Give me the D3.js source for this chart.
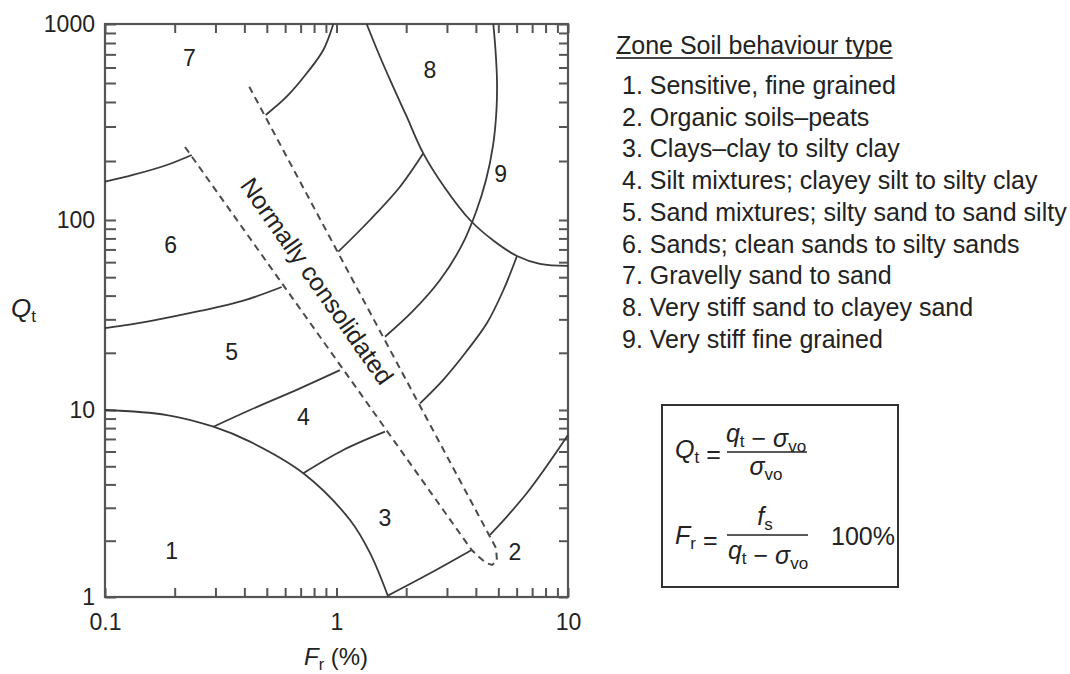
<!DOCTYPE html>
<html>
<head>
<meta charset="utf-8">
<script src="https://cdn.jsdelivr.net/npm/d3@7"></script>
<style>
  body { margin: 0; background: #fff; }
  svg { display: block; font-family: "Liberation Sans", Arial, Helvetica, sans-serif; }
</style>
</head>
<body>
<svg id="chart" width="1070" height="674"></svg>
<script>
// Normalized CPT soil behaviour type chart: Qt against Fr (%), log-log.

// Axis tick labels
const xTickValues = [0.1, 1, 10];
const yTickValues = [1, 10, 100, 1000];

// Zone boundaries, each point is [Fr (%), Qt]
const zone1Boundary   = [[0.1, 10], [0.185, 9.4], [0.294, 8.14], [0.423, 6.77], [0.719, 4.59], [1.144, 2.58], [1.395, 1.72], [1.674, 1]];
const zone23Left      = [[1.674, 1.02], [2.535, 1.339], [3.837, 1.784]];
const zone23Right     = [[4.604, 2.146], [6.63, 3.585], [10, 7.35]];
const zone34Left      = [[0.719, 4.59], [1.07, 6.11], [1.62, 7.66]];
const zone34Right     = [[2.295, 10.84], [2.884, 14.38], [3.626, 20.2], [4.468, 28.7], [5.239, 42.3], [6.022, 64.6]];
const zone45Left      = [[0.294, 8.14], [0.423, 10], [0.696, 13.0], [1.035, 16.2]];
const zone45Right     = [[1.62, 24.3], [2.119, 32.8], [2.80, 48.3], [3.485, 73.9], [4.005, 109.9], [4.424, 160.0],
                         [4.742, 238.6], [4.91, 364.0], [4.935, 518.0], [4.862, 736.9], [4.757, 1000]];
const zone56Left      = [[0.1, 27.0], [0.1564, 29.4], [0.2573, 33.2], [0.4025, 37.9], [0.58, 44.4]];
const zone56Right     = [[1.018, 68.1], [1.395, 100], [1.881, 147.9], [2.371, 218.9]];
const zone67Left      = [[0.1, 156.8], [0.132, 169.7], [0.185, 190.8], [0.237, 214.6]];
const zone67Right     = [[0.4945, 343.4], [0.609, 425.6], [0.7435, 560.3], [0.877, 736.9], [0.969, 1000]];
const zone89Boundary  = [[1.35, 1000], [1.511, 719.7], [1.719, 506.0], [1.996, 343.4], [2.371, 218.9], [2.942, 145.7],
                         [3.773, 100], [4.789, 77.5], [6.022, 64.6], [7.568, 58.7], [10, 57.3]];

// Normally consolidated band outline
const ncBand = [[0.2216, 235.8], [3.837, 1.784], [4.127, 1.636], [4.424, 1.52], [4.697, 1.483], [4.935, 1.557], [4.887, 1.828], [0.42, 478.6]];
const ncLabel = "Normally consolidated";
const ncLabelAt = [0.824, 47.7];

// Zone numbers and where they sit
const zoneIds     = ["1", "2", "3", "4", "5", "6", "7", "8", "9"];
const zoneLabelFr = [0.194, 5.904, 1.62, 0.719, 0.3526, 0.1922, 0.2313, 2.535, 5.12];
const zoneLabelQt = [1.769, 1.747, 2.636, 9.14, 20.3, 73.9, 668, 582.6, 171.7];

// Legend
const legendTitle = "Zone Soil behaviour type";
const legendItems = [
  "1. Sensitive, fine grained",
  "2. Organic soils\u2013peats",
  "3. Clays\u2013clay to silty clay",
  "4. Silt mixtures; clayey silt to silty clay",
  "5. Sand mixtures; silty sand to sand silty",
  "6. Sands; clean sands to silty sands",
  "7. Gravelly sand to sand",
  "8. Very stiff sand to clayey sand",
  "9. Very stiff fine grained"
];

const svg = d3.select("#chart");
const ink = "#222";
const lineInk = "#3a3a3a";
const frameInk = "#555";

const plot = { left: 105, right: 568, top: 24, bottom: 597 };

const x = d3.scaleLog().domain([0.1, 10]).range([plot.left, plot.right]);
const y = d3.scaleLog().domain(yTickValues).range([597, 410, 220, 24]);

const fmt = d3.format("~g");
const labelled = list => v => list.some(t => Math.abs(t - v) < 1e-9) ? fmt(v) : "";

// ---- axes with inward ticks on all four sides
function styleAxis(g) {
  g.select(".domain").remove();
  g.selectAll(".tick line").attr("stroke", frameInk).attr("stroke-width", 2);
  g.selectAll(".tick text").attr("fill", ink).attr("font-size", 23)
    .attr("font-family", "'Liberation Sans', Arial, sans-serif");
}

svg.append("g").attr("transform", `translate(${plot.left},0)`)
  .call(d3.axisLeft(y).tickSize(-11).tickSizeOuter(0).tickPadding(10).tickFormat(labelled(yTickValues)))
  .call(styleAxis);

svg.append("g").attr("transform", `translate(0,${plot.bottom})`)
  .call(d3.axisBottom(x).tickSize(-9).tickSizeOuter(0).tickPadding(17).tickFormat(labelled(xTickValues)))
  .call(styleAxis);

svg.append("g").attr("transform", `translate(0,${plot.top})`)
  .call(d3.axisTop(x).tickSize(-9).tickSizeOuter(0).tickFormat(""))
  .call(styleAxis);

svg.append("g").attr("transform", `translate(${plot.right},0)`)
  .call(d3.axisRight(y).tickSize(-9).tickSizeOuter(0).tickFormat(""))
  .call(styleAxis);

svg.append("rect")
  .attr("x", plot.left).attr("y", plot.top)
  .attr("width", plot.right - plot.left).attr("height", plot.bottom - plot.top)
  .attr("fill", "none").attr("stroke", frameInk).attr("stroke-width", 2.2);

// ---- zone boundaries
const boundary = d3.line()
  .x(d => x(d[0])).y(d => y(d[1]))
  .curve(d3.curveCatmullRom.alpha(0.5));

const boundaries = [zone1Boundary, zone23Left, zone23Right, zone34Left, zone34Right,
  zone45Left, zone45Right, zone56Left, zone56Right, zone67Left, zone67Right, zone89Boundary];

svg.append("g").selectAll("path").data(boundaries).join("path")
  .attr("d", boundary)
  .attr("fill", "none").attr("stroke", lineInk).attr("stroke-width", 1.8);

// ---- normally consolidated band
svg.append("path")
  .attr("d", d3.line().x(d => x(d[0])).y(d => y(d[1])).curve(d3.curveLinear)(ncBand))
  .attr("fill", "none").attr("stroke", "#4a4a4a").attr("stroke-width", 2)
  .attr("stroke-dasharray", "7,5");

svg.append("text")
  .attr("transform", `translate(${x(ncLabelAt[0])},${y(ncLabelAt[1])}) rotate(54.9)`)
  .attr("text-anchor", "middle").attr("dy", "0.35em")
  .attr("font-size", 25).attr("fill", ink)
  .text(ncLabel);

// ---- zone numbers
svg.append("g").selectAll("text").data(zoneIds).join("text")
  .attr("x", (d, i) => x(zoneLabelFr[i]))
  .attr("y", (d, i) => y(zoneLabelQt[i]))
  .attr("dy", "0.35em").attr("text-anchor", "middle")
  .attr("font-size", 23).attr("fill", ink)
  .text(d => d);

// ---- axis titles
const qLabel = svg.append("text").attr("x", 11).attr("y", 317).attr("fill", ink).attr("font-size", 26);
qLabel.append("tspan").attr("font-style", "italic").text("Q");
qLabel.append("tspan").attr("font-size", 17).attr("dy", 5).text("t");

const fLabel = svg.append("text").attr("x", 304).attr("y", 665).attr("fill", ink).attr("font-size", 24);
fLabel.append("tspan").attr("font-style", "italic").text("F");
fLabel.append("tspan").attr("font-size", 16).attr("dy", 5).text("r");
fLabel.append("tspan").attr("dy", -5).text(" (%)");

// ---- legend
const legend = svg.append("g").attr("fill", ink).attr("font-size", 25);
const titleText = legend.append("text").attr("x", 616).attr("y", 54).text(legendTitle);
const titleW = titleText.node().getComputedTextLength();
legend.append("line")
  .attr("x1", 616).attr("x2", 616 + titleW).attr("y1", 58).attr("y2", 58)
  .attr("stroke", "#444").attr("stroke-width", 1.8);

legend.selectAll("text.item").data(legendItems).join("text")
  .attr("class", "item")
  .attr("x", 622)
  .attr("y", (d, i) => 94 + i * 31.7)
  .text(d => d);

// ---- formula box
const box = svg.append("g").attr("fill", ink).attr("font-size", 25);
box.append("rect").attr("x", 662).attr("y", 405).attr("width", 236).attr("height", 182)
  .attr("fill", "none").attr("stroke", "#333").attr("stroke-width", 2);

function sub(textSel, main, subscript, italic) {
  textSel.append("tspan").attr("font-style", italic ? "italic" : null).text(main);
  textSel.append("tspan").attr("font-size", 17).attr("dy", 5).text(subscript);
  textSel.append("tspan").attr("dy", -5).text("");
}

// Qt = (qt - svo) / svo
const qt = box.append("text").attr("x", 675).attr("y", 458);
sub(qt, "Q", "t", true);
qt.append("tspan").text(" =");

const qtNum = box.append("text").attr("x", 766).attr("y", 442).attr("text-anchor", "middle");
sub(qtNum, "q", "t", true);
qtNum.append("tspan").text(" \u2212 ");
sub(qtNum, "\u03c3", "vo", true);

box.append("line").attr("x1", 727).attr("x2", 807).attr("y1", 452).attr("y2", 452)
  .attr("stroke", ink).attr("stroke-width", 1.5);

const qtDen = box.append("text").attr("x", 766).attr("y", 475).attr("text-anchor", "middle");
sub(qtDen, "\u03c3", "vo", true);

// Fr = fs / (qt - svo) 100%
const fr = box.append("text").attr("x", 675).attr("y", 544);
sub(fr, "F", "r", true);
fr.append("tspan").text(" =");

const frNum = box.append("text").attr("x", 765).attr("y", 525).attr("text-anchor", "middle");
sub(frNum, "f", "s", true);

box.append("line").attr("x1", 727).attr("x2", 808).attr("y1", 535).attr("y2", 535)
  .attr("stroke", ink).attr("stroke-width", 1.5);

const frDen = box.append("text").attr("x", 768).attr("y", 559).attr("text-anchor", "middle");
sub(frDen, "q", "t", true);
frDen.append("tspan").text(" \u2212 ");
sub(frDen, "\u03c3", "vo", true);

box.append("text").attr("x", 831).attr("y", 545).text("100%");
</script>
</body>
</html>
